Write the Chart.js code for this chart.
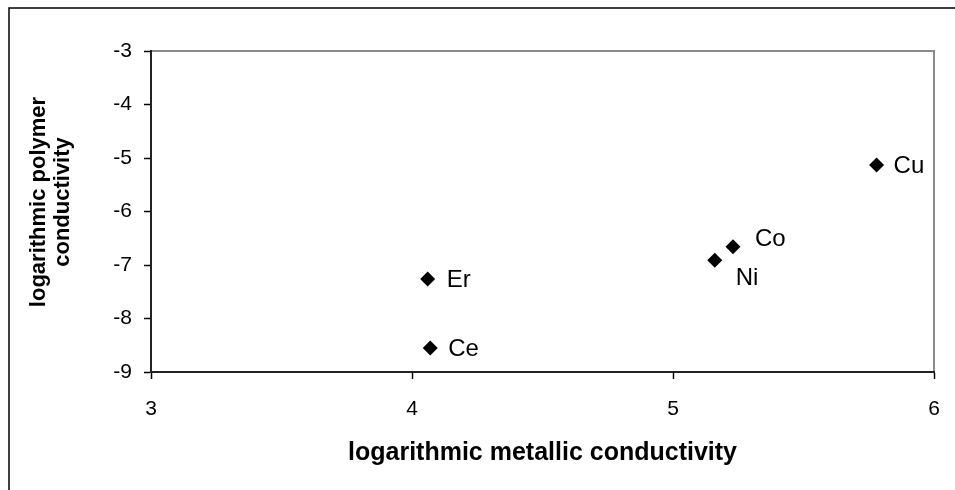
<!DOCTYPE html>
<html>
<head>
<meta charset="utf-8">
<script src="https://cdn.jsdelivr.net/npm/chart.js@4.4.1/dist/chart.umd.min.js"></script>
<style>
html,body{margin:0;padding:0;background:#fff;}
#wrap{width:955px;height:490px;position:relative;}
</style>
</head>
<body>
<div id="wrap"><canvas id="c" width="955" height="490"></canvas></div>
<script>
// ---- data ----
const elements = ["Er", "Ce", "Ni", "Co", "Cu"];
const metallicLog = [4.06, 4.07, 5.16, 5.23, 5.78];
const polymerLog = [-7.26, -8.55, -6.91, -6.66, -5.13];
const xTicks = [3, 4, 5, 6];
const yTicks = [-3, -4, -5, -6, -7, -8, -9];
const xTitle = "logarithmic metallic conductivity";
const yTitle = ["logarithmic polymer", "conductivity"];

// ---- style (label offsets from marker, px) ----
const labelOffsets = [[19, 1], [18, 1], [21, 18], [22, -7], [17, 1]];

const FONT = "'Liberation Sans', Arial, sans-serif";

const framePlugin = {
  id: 'frame',
  beforeDraw(chart) {
    const ctx = chart.ctx;
    ctx.save();
    ctx.fillStyle = '#fff';
    ctx.fillRect(0, 0, chart.width, chart.height);
    ctx.strokeStyle = '#000';
    ctx.lineWidth = 1.5;
    ctx.strokeRect(9, 8, 1000, 600);
    const a = chart.chartArea;
    ctx.strokeStyle = '#8a8a8a';
    ctx.lineWidth = 2;
    ctx.beginPath();
    ctx.moveTo(a.left, a.top);
    ctx.lineTo(a.right, a.top);
    ctx.lineTo(a.right, a.bottom);
    ctx.stroke();
    ctx.restore();
  },
  afterDraw(chart) {
    // y-axis title (two lines, rotated)
    const ctx = chart.ctx;
    ctx.save();
    ctx.fillStyle = '#000';
    ctx.font = "bold 22px " + FONT;
    ctx.textAlign = 'center';
    ctx.textBaseline = 'middle';
    ctx.translate(39, 202);
    ctx.rotate(-Math.PI / 2);
    yTitle.forEach((line, i) => ctx.fillText(line, 0, i * 24));
    ctx.restore();
  }
};

const labelPlugin = {
  id: 'pointLabels',
  afterDatasetsDraw(chart) {
    const ctx = chart.ctx;
    const meta = chart.getDatasetMeta(0);
    ctx.save();
    ctx.fillStyle = '#000';
    ctx.font = "24px " + FONT;
    ctx.textAlign = 'left';
    ctx.textBaseline = 'middle';
    meta.data.forEach((pt, i) => {
      const o = labelOffsets[i];
      ctx.fillText(elements[i], pt.x + o[0], pt.y + o[1]);
    });
    ctx.restore();
  }
};

new Chart(document.getElementById('c'), {
  type: 'scatter',
  data: {
    datasets: [{
      data: metallicLog.map((x, i) => ({x: x, y: polymerLog[i]})),
      pointStyle: 'rectRot',
      pointRadius: 7.5,
      pointHoverRadius: 7.5,
      backgroundColor: '#000',
      borderColor: '#000',
      borderWidth: 0
    }]
  },
  options: {
    responsive: false,
    animation: false,
    events: [],
    layout: { padding: { top: 51, right: 21, left: 0, bottom: 0 } },
    plugins: { legend: { display: false }, tooltip: { enabled: false } },
    scales: {
      x: {
        type: 'linear',
        min: 3, max: 6,
        afterBuildTicks(s) { s.ticks = xTicks.map(v => ({value: v})); },
        afterFit(s) { s.height = 118; s.paddingRight = 0; },
        ticks: { color: '#000', font: { family: FONT, size: 21 }, padding: 18, maxRotation: 0 },
        grid: { drawOnChartArea: false, drawTicks: true, tickLength: 7, color: '#000', tickWidth: 1.5 },
        border: { display: true, color: '#222', width: 2 },
        title: { display: true, text: xTitle, color: '#000', font: { family: FONT, size: 25, weight: 'bold' }, padding: { top: 0, bottom: 22 } }
      },
      y: {
        type: 'linear',
        min: -9, max: -3,
        afterBuildTicks(s) { s.ticks = yTicks.map(v => ({value: v})); },
        afterFit(s) { s.width = 151; },
        ticks: { color: '#000', font: { family: FONT, size: 21 }, padding: 12 },
        grid: { drawOnChartArea: false, drawTicks: true, tickLength: 7, color: '#000', tickWidth: 1.5 },
        border: { display: true, color: '#222', width: 2 },
        title: { display: false }
      }
    }
  },
  plugins: [framePlugin, labelPlugin]
});
</script>
</body>
</html>
